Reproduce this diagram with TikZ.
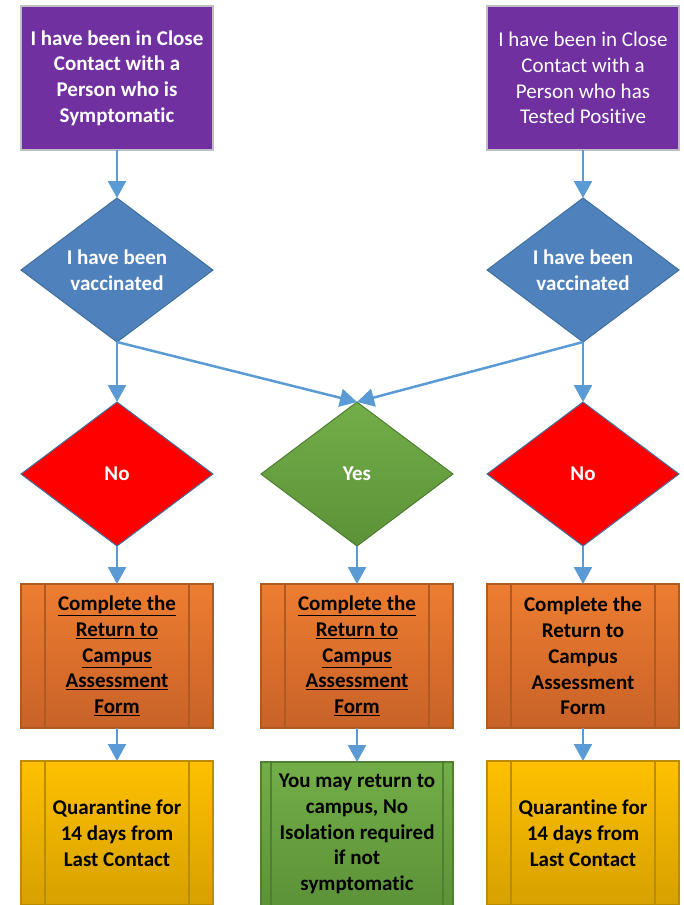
\documentclass[tikz,border=0pt]{standalone}
\usepackage{fontspec}
\setmainfont[Ligatures={NoCommon, NoRequired, NoContextual}]{Carlito}
\usepackage{tikz}
\newcommand{\lSymptomatic}{I have been in Close\\Contact with a\\Person who is\\Symptomatic}
\newcommand{\lPositive}{I have been in Close\\Contact with a\\Person who has\\Tested Positive}
\newcommand{\lVaccinated}{I have been\\vaccinated}
\newcommand{\lFormLinked}{\underline{Complete the}\\\underline{Return to}\\\underline{Campus}\\\underline{Assessment}\\\underline{Form}}
\newcommand{\lForm}{Complete the\\Return to\\Campus\\Assessment\\Form}
\newcommand{\lQuarantine}{Quarantine for\\14 days from\\Last Contact}
\newcommand{\lReturn}{You may return to\\campus, No\\Isolation required\\if not\\symptomatic}
\usetikzlibrary{shapes.geometric, positioning, calc, arrows.meta}
\definecolor{themePurple}{RGB}{112, 48, 160}
\definecolor{themeFrame}{RGB}{190, 190, 200}
\definecolor{themeBlue}{RGB}{79, 129, 189}
\definecolor{themeBlueDark}{RGB}{65, 113, 156}
\definecolor{themeArrow}{RGB}{91, 155, 213}
\definecolor{themeRed}{RGB}{255, 0, 0}
\definecolor{themeGreen}{RGB}{114, 174, 72}
\definecolor{themeGreenDark}{RGB}{92, 146, 56}
\definecolor{themeGreenLine}{RGB}{80, 126, 50}
\definecolor{themeOrange}{RGB}{237, 125, 49}
\definecolor{themeOrangeDark}{RGB}{200, 98, 40}
\definecolor{themeOrangeLine}{RGB}{174, 90, 33}
\definecolor{themeGold}{RGB}{255, 192, 0}
\definecolor{themeGoldDark}{RGB}{214, 161, 0}
\definecolor{themeGoldLine}{RGB}{188, 140, 0}

\begin{document}
\begin{tikzpicture} [
        x=1pt, y=1pt,
        every node/.style={font=\fontsize{21}{25.7}\selectfont\bfseries, align=center, inner sep=2pt, outer sep=0pt},
        size/.style={minimum width=192pt, minimum height=144pt},
        contact/.style={draw=themeFrame, size, line width=1.5pt, fill=themePurple, text=white},
        decide/.style={diamond, size, shape aspect=1.333, inner sep=0pt, line width=1pt, text=white},
        vacc/.style={decide, draw=themeBlueDark, fill=themeBlue},
        answer no/.style={decide, draw=themeBlueDark, fill=themeRed},
        answer yes/.style={decide, draw=themeGreenLine, top color=themeGreen, bottom color=themeGreenDark},
        form/.style={draw=themeOrangeLine, size, line width=1.5pt, top color=themeOrange, bottom color=themeOrangeDark},
        quarantine/.style={draw=themeGoldLine, size, line width=1.5pt, top color=themeGold, bottom color=themeGoldDark},
        free/.style={draw=themeGreenLine, size, line width=1.5pt, top color=themeGreen, bottom color=themeGreenDark},
        bar orange/.style={draw=themeOrangeLine, line width=1.5pt},
        bar gold/.style={draw=themeGoldLine, line width=1.5pt},
        bar green/.style={draw=themeGreenLine, line width=1.5pt},
        flow/.style={draw=themeArrow, line width=2.5pt, -{Triangle[width=18pt, length=17pt]}}
    ]

    \useasboundingbox (0, 0) rectangle (683, -905);

    % left column
    \node[contact] (sym) at (117, -78) {\lSymptomatic};
    \node[vacc, below=48pt of sym] (vacc left) {\lVaccinated};
    \node[answer no, below=60pt of vacc left] (no left) {No};
    \node[form, below=38pt of no left] (form left) {\lFormLinked};
    \node[quarantine, below=33pt of form left] (quar left) {\lQuarantine};

    % right column
    \node[contact, font=\fontsize{21}{25.7}\selectfont] (pos) at (583, -78) {\lPositive};
    \node[vacc, below=48pt of pos] (vacc right) {\lVaccinated};
    \node[answer no, below=60pt of vacc right] (no right) {No};
    \node[form, below=38pt of no right] (form right) {\lForm};
    \node[quarantine, below=33pt of form right] (quar right) {\lQuarantine};

    % middle column
    \node[answer yes] (yes) at (357, -474) {Yes};
    \node[form, below=38pt of yes] (form mid) {\lFormLinked};
    \node[free, below=34pt of form mid] (back) {\lReturn};

    % side bars of the process boxes
    \draw[bar orange] ($ (form left.north west) + (24, 0) $) -- ($ (form left.south west) + (24, 0) $);
    \draw[bar orange] ($ (form left.north east) - (24, 0) $) -- ($ (form left.south east) - (24, 0) $);
    \draw[bar orange] ($ (form mid.north west) + (24, 0) $) -- ($ (form mid.south west) + (24, 0) $);
    \draw[bar orange] ($ (form mid.north east) - (24, 0) $) -- ($ (form mid.south east) - (24, 0) $);
    \draw[bar orange] ($ (form right.north west) + (24, 0) $) -- ($ (form right.south west) + (24, 0) $);
    \draw[bar orange] ($ (form right.north east) - (24, 0) $) -- ($ (form right.south east) - (24, 0) $);
    \draw[bar gold] ($ (quar left.north west) + (24, 0) $) -- ($ (quar left.south west) + (24, 0) $);
    \draw[bar gold] ($ (quar left.north east) - (24, 0) $) -- ($ (quar left.south east) - (24, 0) $);
    \draw[bar gold] ($ (quar right.north west) + (24, 0) $) -- ($ (quar right.south west) + (24, 0) $);
    \draw[bar gold] ($ (quar right.north east) - (24, 0) $) -- ($ (quar right.south east) - (24, 0) $);
    \draw[bar green] ($ (back.north west) + (10, 0) $) -- ($ (back.south west) + (10, 0) $);
    \draw[bar green] ($ (back.north east) - (10, 0) $) -- ($ (back.south east) - (10, 0) $);

    % connectors
    \draw[flow] (sym) -- (vacc left);
    \draw[flow] (pos) -- (vacc right);
    \draw[flow] (vacc left.south) -- (no left.north);
    \draw[flow] (vacc right.south) -- (no right.north);
    \draw[flow] (vacc left.south) -- (yes.north);
    \draw[flow] (vacc right.south) -- (yes.north);
    \draw[flow] (no left) -- (form left);
    \draw[flow] (no right) -- (form right);
    \draw[flow] (yes) -- (form mid);
    \draw[flow] (form left) -- (quar left);
    \draw[flow] (form right) -- (quar right);
    \draw[flow] (form mid) -- (back);

    \end{tikzpicture}
\end{document}
